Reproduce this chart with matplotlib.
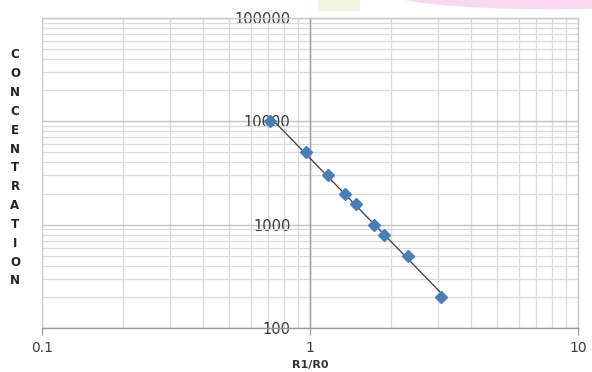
import numpy as np
import matplotlib
matplotlib.use("Agg")
import matplotlib.pyplot as plt
from matplotlib.patches import Ellipse, Rectangle
from matplotlib.ticker import LogLocator, FixedLocator, NullFormatter

# Data
ratio = [0.71, 0.97, 1.17, 1.35, 1.48, 1.73, 1.89, 2.32, 3.08]
concentration = [10000, 5000, 3000, 2000, 1600, 1000, 800, 500, 200]
x_ticks = [0.1, 1, 10]
x_tick_labels = ["0.1", "1", "10"]
y_ticks = [100, 1000, 10000, 100000]
y_tick_labels = ["100", "1000", "10000", "100000"]
y_title = "CONCENTRATION"
x_title = "R1/R0"

fig = plt.figure(figsize=(5.92, 3.72), dpi=100)
fig.patch.set_facecolor("white")

# decorative pink shape at top right
fig.patches.append(Ellipse((0.93, 1.02), 0.55, 0.09, transform=fig.transFigure,
                           facecolor="#f9d9ef", edgecolor="none", zorder=0))
fig.patches.append(Rectangle((318/592, 1 - 11/372), 42/592, 11/372, transform=fig.transFigure,
                             facecolor="#f4f2e0", edgecolor="none", zorder=0))

ax = fig.add_axes([42/592, 1-328/372, (578-42)/592, (328-18)/372])
ax.set_xscale("log")
ax.set_yscale("log")
ax.set_xlim(0.1, 10)
ax.set_ylim(100, 100000)

# grid
ax.xaxis.set_major_locator(FixedLocator(x_ticks))
ax.yaxis.set_major_locator(FixedLocator(y_ticks))
ax.xaxis.set_minor_locator(LogLocator(base=10, subs=np.arange(2, 10)))
ax.yaxis.set_minor_locator(LogLocator(base=10, subs=np.arange(2, 10)))
ax.xaxis.set_minor_formatter(NullFormatter())
ax.yaxis.set_minor_formatter(NullFormatter())
ax.grid(True, which="major", color="#c4c4c4", linewidth=1.0)
ax.grid(True, which="minor", color="#dadada", linewidth=0.9)
ax.set_axisbelow(True)

# spines
for s in ["top", "right"]:
    ax.spines[s].set_color("#c8c8c8")
    ax.spines[s].set_linewidth(1.0)
ax.spines["bottom"].set_color("#999999")
ax.spines["bottom"].set_linewidth(1.0)
ax.spines["left"].set_position(("data", 1))
ax.spines["left"].set_color("#a0a0a0")
ax.spines["left"].set_linewidth(1.0)
ax.add_patch(Rectangle((0, 0), 0.0025, 1, transform=ax.transAxes,
                       facecolor="#c8c8c8", edgecolor="none", clip_on=False))

ax.set_xticks(x_ticks)
ax.set_xticklabels(x_tick_labels)
ax.set_yticks(y_ticks)
ax.set_yticklabels(y_tick_labels)
ax.tick_params(axis="x", which="major", length=5, color="#999999", pad=4,
               labelsize=10, labelcolor="#3a3a3a")
ax.tick_params(axis="x", which="minor", length=0)
ax.tick_params(axis="y", which="major", length=0, pad=14,
               labelsize=10.5, labelcolor="#3a3a3a")
ax.tick_params(axis="y", which="minor", length=0)

# trendline (power fit) and points
lx = np.log10(ratio)
ly = np.log10(concentration)
b, a = np.polyfit(lx, ly, 1)
xs = np.array([min(ratio), max(ratio)])
ax.plot(xs, 10 ** (a + b * np.log10(xs)), color="#3a3a3a", linewidth=0.9, zorder=3)
ax.plot(ratio, concentration, linestyle="none", marker="D", markersize=6.5,
        markerfacecolor="#4a7ebb", markeredgecolor="#4a7ebb", zorder=4)

ax.set_xlabel(x_title, fontsize=8, fontweight="bold", color="#333333", labelpad=4)

# stacked vertical title
for i, ch in enumerate(y_title):
    fig.text(15/592, 1 - (55 + i * 18.83)/372, ch, ha="center", va="center",
             fontsize=8.5, fontweight="bold", color="#222222")

fig.savefig("out.png", dpi=100, facecolor="white")
